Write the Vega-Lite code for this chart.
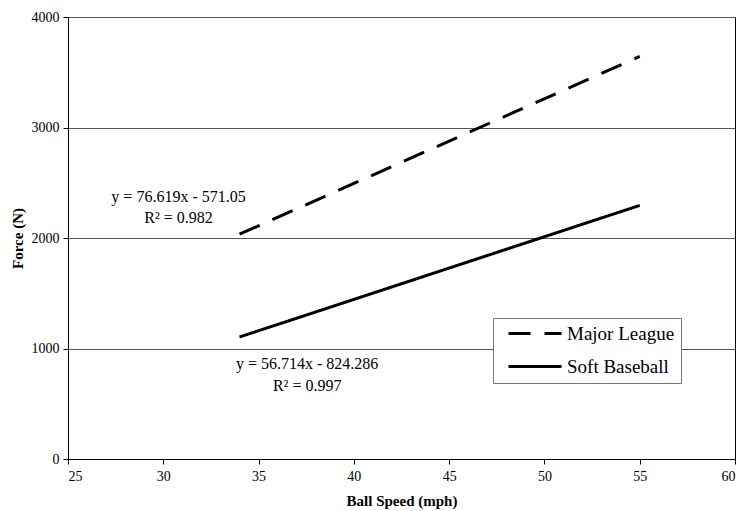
{
  "$schema": "https://vega.github.io/schema/vega-lite/v6.json",
  "width": 667,
  "height": 442,
  "autosize": {"type": "none"},
  "padding": {"left": 68, "top": 17, "right": 8, "bottom": 52},
  "background": "white",
  "config": {
    "font": "Liberation Serif",
    "view": {"stroke": "black", "strokeWidth": 1},
    "legend": {"labelFont": "Liberation Serif", "labelFontSize": 19, "labelColor": "black"},
    "axis": {
      "labelFont": "Liberation Serif",
      "titleFont": "Liberation Serif",
      "labelFontSize": 14,
      "titleFontSize": 15,
      "titleFontWeight": "bold",
      "labelColor": "black",
      "titleColor": "black",
      "domainColor": "black",
      "tickColor": "black",
      "tickSize": 5
    }
  },
  "layer": [
    {
      "data": {
        "values": [
          {"series": "Major League", "speed": 34, "force": 2034},
          {"series": "Major League", "speed": 55, "force": 3643},
          {"series": "Soft Baseball", "speed": 34, "force": 1104},
          {"series": "Soft Baseball", "speed": 55, "force": 2295}
        ]
      },
      "mark": {"type": "line", "color": "black", "strokeWidth": 3},
      "encoding": {
        "x": {
          "field": "speed", "type": "quantitative",
          "scale": {"domain": [25, 60], "nice": false},
          "axis": {"values": [25, 30, 35, 40, 45, 50, 55, 60], "grid": false, "title": "Ball Speed (mph)", "titlePadding": 10, "labelPadding": 5}
        },
        "y": {
          "field": "force", "type": "quantitative",
          "scale": {"domain": [0, 4000], "nice": false},
          "axis": {"values": [0, 1000, 2000, 3000, 4000], "format": "d", "grid": true, "gridColor": "#555", "gridWidth": 1, "title": "Force (N)", "titlePadding": 6, "labelPadding": 4}
        },
        "strokeDash": {
          "field": "series", "type": "nominal",
          "scale": {"domain": ["Major League", "Soft Baseball"], "range": [[22, 14], [1, 0]]},
          "legend": {
            "title": null,
            "orient": "none",
            "legendX": 425,
            "legendY": 301,
            "symbolType": "M0,0H8",
            "symbolSize": 176,
            "symbolStrokeWidth": 3,
            "symbolStrokeColor": "black",
            "symbolFillColor": "transparent",
            "rowPadding": 13,
            "padding": 6,
            "strokeColor": "#777",
            "fillColor": "white",
            "labelOffset": 49
          }
        }
      }
    },
    {
      "data": {
        "values": [
          {"label": "y = 76.619x - 571.05", "speed": 30.8, "force": 2371},
          {"label": "R² = 0.982", "speed": 30.8, "force": 2181},
          {"label": "y = 56.714x - 824.286", "speed": 37.55, "force": 860},
          {"label": "R² = 0.997", "speed": 37.55, "force": 661}
        ]
      },
      "mark": {"type": "text", "font": "Liberation Serif", "fontSize": 16, "color": "black", "align": "center", "baseline": "middle"},
      "encoding": {
        "x": {"field": "speed", "type": "quantitative"},
        "y": {"field": "force", "type": "quantitative"},
        "text": {"field": "label", "type": "nominal"}
      }
    }
  ]
}
